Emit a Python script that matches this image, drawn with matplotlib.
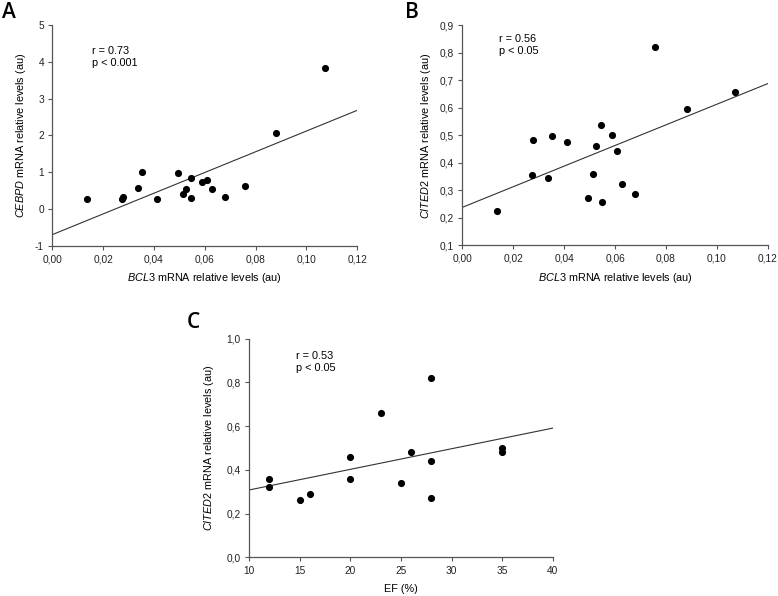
import matplotlib
matplotlib.use("Agg")
import matplotlib.pyplot as plt
from matplotlib.ticker import FuncFormatter, MultipleLocator

plt.rcParams['font.family'] = ['Liberation Sans', 'DejaVu Sans']
plt.rcParams['mathtext.fontset'] = 'custom'
plt.rcParams['mathtext.it'] = 'Liberation Sans:italic'
plt.rcParams['mathtext.rm'] = 'Liberation Sans'
plt.rcParams['axes.unicode_minus'] = False

# --- data ---
bcl3 = [0.0135, 0.0275, 0.0277, 0.0337, 0.0353, 0.0411, 0.0493, 0.0514, 0.0526,
        0.0546, 0.0547, 0.0589, 0.0608, 0.0629, 0.0678, 0.0757, 0.0882, 0.1073]
cebpd = [0.27, 0.26, 0.32, 0.58, 1.01, 0.27, 0.99, 0.40, 0.55,
         0.83, 0.30, 0.72, 0.79, 0.53, 0.33, 0.63, 2.07, 3.83]
cited2_b = [0.225, 0.357, 0.482, 0.345, 0.496, 0.477, 0.273, 0.361, 0.462,
            0.538, 0.259, 0.502, 0.442, 0.323, 0.288, 0.820, 0.595, 0.656]
ef = [12, 12, 15, 16, 20, 20, 23, 25, 26, 28, 28, 28, 35, 35]
cited2_c = [0.36, 0.32, 0.26, 0.29, 0.46, 0.36, 0.66, 0.34, 0.48, 0.82, 0.44, 0.27, 0.50, 0.48]

# regression line end points
fit_a = ([0.0, 0.12], [-0.70, 2.685])
fit_b = ([0.0, 0.12], [0.238, 0.688])
fit_c = ([10, 40], [0.308, 0.591])

fig = plt.figure(figsize=(7.78, 5.96), dpi=100)

axA = fig.add_axes([0.0672, 0.5878, 0.392, 0.3698])
axB = fig.add_axes([0.5942, 0.5884, 0.3926, 0.3691])
axC = fig.add_axes([0.3201, 0.0649, 0.3904, 0.3668])

grey = '#555555'
lab_fs = 7.8


def comma(fmt):
    return FuncFormatter(lambda v, p: (fmt % v).replace('.', ','))


def style(ax):
    for s in ['top', 'right']:
        ax.spines[s].set_visible(False)
    for s in ['left', 'bottom']:
        ax.spines[s].set_color(grey)
        ax.spines[s].set_linewidth(0.9)
    ax.tick_params(direction='out', length=3, width=0.8, color=grey,
                   labelsize=7.3, labelcolor='#222222', pad=3)


# --- A ---
axA.scatter(bcl3, cebpd, s=17, color='black', zorder=3)
axA.plot(*fit_a, color='#333333', lw=0.8)
axA.set_xlim(0, 0.12)
axA.set_ylim(-1, 5)
axA.xaxis.set_major_locator(MultipleLocator(0.02))
axA.xaxis.set_major_formatter(comma('%.2f'))
axA.yaxis.set_major_locator(MultipleLocator(1))
axA.set_xlabel(r'$\mathit{BCL3}$ mRNA relative levels (au)', fontsize=lab_fs)
axA.set_ylabel(r'$\mathit{CEBPD}$ mRNA relative levels (au)', fontsize=lab_fs)
axA.xaxis.set_label_coords(0.5, -0.115)
axA.yaxis.set_label_coords(-0.078, 0.5)
axA.text(0.129, 0.905, 'r = 0.73\np < 0.001', transform=axA.transAxes,
         fontsize=7.8, va='top', linespacing=1.25)
style(axA)

# --- B ---
axB.scatter(bcl3, cited2_b, s=17, color='black', zorder=3)
axB.plot(*fit_b, color='#333333', lw=0.8)
axB.set_xlim(0, 0.12)
axB.set_ylim(0.1, 0.9)
axB.xaxis.set_major_locator(MultipleLocator(0.02))
axB.xaxis.set_major_formatter(comma('%.2f'))
axB.yaxis.set_major_locator(MultipleLocator(0.1))
axB.yaxis.set_major_formatter(comma('%.1f'))
axB.set_xlabel(r'$\mathit{BCL3}$ mRNA relative levels (au)', fontsize=lab_fs)
axB.set_ylabel(r'$\mathit{CITED2}$ mRNA relative levels (au)', fontsize=lab_fs)
axB.xaxis.set_label_coords(0.5, -0.115)
axB.yaxis.set_label_coords(-0.096, 0.5)
axB.text(0.12, 0.96, 'r = 0.56\np < 0.05', transform=axB.transAxes,
         fontsize=7.8, va='top', linespacing=1.25)
style(axB)

# --- C ---
axC.scatter(ef, cited2_c, s=17, color='black', zorder=3)
axC.plot(*fit_c, color='#333333', lw=0.8)
axC.set_xlim(10, 40)
axC.set_ylim(0, 1.0)
axC.xaxis.set_major_locator(MultipleLocator(5))
axC.yaxis.set_major_locator(MultipleLocator(0.2))
axC.yaxis.set_major_formatter(comma('%.1f'))
axC.set_xlabel('EF (%)', fontsize=lab_fs)
axC.set_ylabel(r'$\mathit{CITED2}$ mRNA relative levels (au)', fontsize=lab_fs)
axC.xaxis.set_label_coords(0.5, -0.122)
axC.yaxis.set_label_coords(-0.109, 0.5)
axC.text(0.154, 0.945, 'r = 0.53\np < 0.05', transform=axC.transAxes,
         fontsize=7.8, va='top', linespacing=1.25)
style(axC)

# panel letters
for lab, x, y in [('A', 9, 13), ('B', 412, 13), ('C', 193, 323)]:
    fig.text(x / 778, 1 - y / 596, lab, fontsize=15, family='Open Sans',
             fontweight='semibold', ha='center', va='center')

fig.savefig('out.png', dpi=100)
